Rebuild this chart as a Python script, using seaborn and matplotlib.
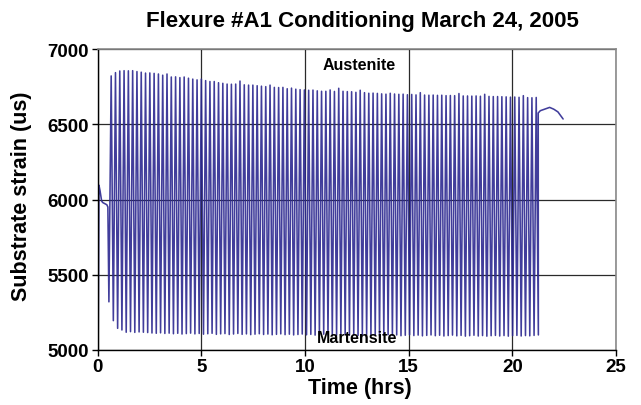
import numpy as np
import pandas as pd
import matplotlib
matplotlib.use("Agg")
import matplotlib.pyplot as plt
import seaborn as sns

# Start-up transient before cycling begins (time in hrs, strain in us)
startup_time = [0.03, 0.07, 0.12, 0.20, 0.25, 0.45, 0.50, 0.55]
startup_strain = [5000, 6095, 6060, 5990, 5980, 5965, 5950, 5320]

# Conditioning cycles: austenite peaks and martensite troughs
first_peak_time = 0.66
cycle_period = 0.207
peak_strain = [
    6821, 6843, 6854, 6856, 6855, 6856, 6850, 6846, 6840, 6841,
    6838, 6834, 6826, 6834, 6814, 6815, 6810, 6814, 6806, 6800,
    6795, 6800, 6790, 6784, 6784, 6776, 6772, 6767, 6766, 6767,
    6787, 6762, 6760, 6760, 6756, 6753, 6750, 6760, 6745, 6744,
    6745, 6736, 6740, 6733, 6730, 6728, 6726, 6727, 6722, 6719,
    6719, 6728, 6718, 6739, 6719, 6717, 6716, 6712, 6726, 6710,
    6706, 6707, 6705, 6702, 6700, 6706, 6701, 6699, 6700, 6696,
    6698, 6695, 6710, 6694, 6693, 6694, 6692, 6693, 6690, 6691,
    6690, 6704, 6688, 6688, 6687, 6688, 6686, 6699, 6685, 6684,
    6684, 6683, 6682, 6680, 6681, 6679, 6690, 6677, 6676, 6678,
]
trough_strain = [
    5195, 5144, 5133, 5118, 5122, 5117, 5120, 5118, 5116, 5113,
    5111, 5114, 5110, 5112, 5108, 5111, 5106, 5109, 5112, 5107,
    5110, 5105, 5108, 5111, 5104, 5107, 5109, 5103, 5106, 5110,
    5104, 5107, 5102, 5105, 5108, 5103, 5106, 5101, 5104, 5107,
    5102, 5105, 5100, 5103, 5106, 5101, 5104, 5099, 5102, 5105,
    5100, 5103, 5098, 5101, 5104, 5099, 5102, 5097, 5100, 5103,
    5098, 5101, 5096, 5099, 5102, 5097, 5100, 5095, 5098, 5101,
    5096, 5099, 5094, 5097, 5100, 5095, 5098, 5093, 5096, 5099,
    5094, 5097, 5092, 5095, 5098, 5093, 5096, 5092, 5095, 5097,
    5093, 5096, 5092, 5095, 5097, 5093, 5096, 5094, 5097, 5100,
]

# Relaxation after the last cycle
tail_time = [21.25, 21.35, 21.55, 21.80, 22.00, 22.20, 22.45]
tail_strain = [6575, 6590, 6600, 6612, 6600, 6582, 6535]

x_ticks = [0, 5, 10, 15, 20, 25]
y_ticks = [5000, 5500, 6000, 6500, 7000]

# Assemble the strain trace
times = list(startup_time)
strains = list(startup_strain)
for i, (pk, tr) in enumerate(zip(peak_strain, trough_strain)):
    t_pk = first_peak_time + i * cycle_period
    times += [t_pk, t_pk + 0.5 * cycle_period]
    strains += [pk, tr]
times += tail_time
strains += tail_strain
df = pd.DataFrame({"Time (hrs)": times, "Substrate strain (us)": strains})

sns.set_theme(style="white")
plt.rcParams["font.family"] = ["Liberation Sans", "DejaVu Sans"]
plt.rcParams["font.weight"] = "bold"
for key in ["text.color", "axes.labelcolor", "xtick.color", "ytick.color"]:
    plt.rcParams[key] = "black"

fig = plt.figure(figsize=(6.41, 4.06), dpi=100)
ax = fig.add_axes([97.5 / 641, 1 - 351 / 406, (616 - 97.5) / 641, (351 - 50) / 406])

sns.lineplot(data=df, x="Time (hrs)", y="Substrate strain (us)", sort=False,
             estimator=None, color="#2c2890", linewidth=1.15, alpha=0.9, ax=ax)

ax.set_xlim(0, 25)
ax.set_ylim(5000, 7000)
ax.set_xticks(x_ticks)
ax.set_yticks(y_ticks)
ax.grid(True, color="#2a2a2a", linewidth=0.9)
ax.set_axisbelow(True)

for side in ["left", "bottom"]:
    ax.spines[side].set_color("black")
    ax.spines[side].set_linewidth(1.0)
for side in ["top", "right"]:
    ax.spines[side].set_color("#8a8a8a")
    ax.spines[side].set_linewidth(1.2)

ax.tick_params(axis="both", direction="out", length=4, width=1, color="black",
               labelsize=13.5, pad=2, bottom=True, left=True)
for lbl in ax.get_xticklabels() + ax.get_yticklabels():
    lbl.set_fontweight("bold")

ax.set_xlabel("")
ax.set_ylabel("")
fig.text(360 / 641, 1 - 389 / 406, "Time (hrs)", ha="center", va="center",
         fontsize=15.5, fontweight="bold")
fig.text(22 / 641, 1 - 196 / 406, "Substrate strain (us)", ha="center", va="center",
         rotation=90, fontsize=15.5, fontweight="bold")
fig.text(362 / 641, 1 - 21 / 406, "Flexure #A1 Conditioning March 24, 2005",
         ha="center", va="center", fontsize=16, fontweight="bold")

ax.text(12.6, 6900, "Austenite", ha="center", va="center", fontsize=11.5,
        fontweight="bold")
ax.text(12.5, 5085, "Martensite", ha="center", va="center", fontsize=11.5,
        fontweight="bold")

fig.savefig("out.png", dpi=100)
